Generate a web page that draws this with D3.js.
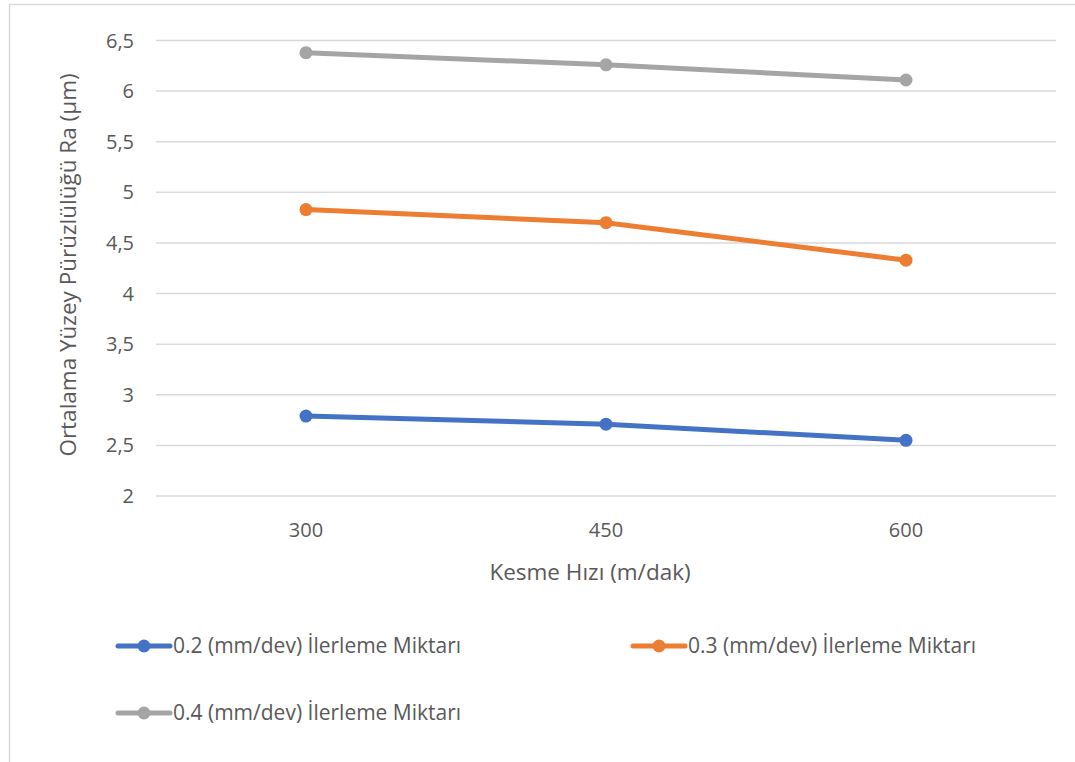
<!DOCTYPE html>
<html><head><meta charset="utf-8">
<script src="https://cdn.jsdelivr.net/npm/d3@7"></script>
<style>body{margin:0;background:#fff}svg{display:block}</style>
</head><body>
<svg id="c" width="1075" height="762"></svg>
<script>
const categories = ["300", "450", "600"];
const seriesNames = ["0.2 (mm/dev) İlerleme Miktarı", "0.3 (mm/dev) İlerleme Miktarı", "0.4 (mm/dev) İlerleme Miktarı"];
const feed02 = [2.79, 2.71, 2.55];
const feed03 = [4.83, 4.70, 4.33];
const feed04 = [6.38, 6.26, 6.11];
const yTicks = [2, 2.5, 3, 3.5, 4, 4.5, 5, 5.5, 6, 6.5];
const colors = ["#4472C4", "#ED7D31", "#A5A5A5"];
const xTitle = "Kesme Hızı (m/dak)";
const yTitle = "Ortalama Yüzey Pürüzlülüğü Ra (µm)";

const series = [feed02, feed03, feed04];
const svg = d3.select("#c");
const font = "'Open Sans', sans-serif";
const textColor = "#595959";

// chart border (partially cropped)
svg.append("rect").attr("x", 9.5).attr("y", 4.5).attr("width", 1100).attr("height", 800)
  .attr("fill", "none").attr("stroke", "#d9d9d9").attr("stroke-width", 1.5);

const x = d3.scaleBand().domain(categories).range([156, 1056]);
const y = d3.scaleLinear().domain([2, 6.5]).range([496, 40.5]);

// gridlines
svg.append("g").selectAll("line").data(yTicks).join("line")
  .attr("x1", 156).attr("x2", 1056)
  .attr("y1", d => y(d)).attr("y2", d => y(d))
  .attr("stroke", "#d9d9d9").attr("stroke-width", 1.5);

// y axis labels
const fmt = d => String(d).replace(".", ",");
svg.append("g").selectAll("text").data(yTicks).join("text")
  .attr("x", 134).attr("y", d => y(d)).attr("dy", "0.35em")
  .attr("text-anchor", "end").attr("font-family", font).attr("font-size", 20)
  .attr("fill", textColor).text(fmt);

// x axis labels
svg.append("g").selectAll("text").data(categories).join("text")
  .attr("x", d => x(d) + x.bandwidth() / 2).attr("y", 530).attr("dy", "0.35em")
  .attr("text-anchor", "middle").attr("font-family", font).attr("font-size", 20)
  .attr("fill", textColor).text(d => d);

// axis titles
svg.append("text").attr("x", 590).attr("y", 572).attr("dy", "0.35em")
  .attr("text-anchor", "middle").attr("font-family", font).attr("font-size", 22.5)
  .attr("fill", textColor).text(xTitle);
svg.append("text").attr("transform", "translate(68,265) rotate(-90)").attr("dy", "0.35em")
  .attr("text-anchor", "middle").attr("font-family", font).attr("font-size", 22.5)
  .attr("fill", textColor).text(yTitle);

// lines
const line = d3.line().x((d, i) => x(categories[i]) + x.bandwidth() / 2).y(d => y(d));
series.forEach((s, k) => {
  svg.append("path").datum(s).attr("d", line).attr("fill", "none")
    .attr("stroke", colors[k]).attr("stroke-width", 5).attr("stroke-linecap", "round");
  svg.append("g").selectAll("circle").data(s).join("circle")
    .attr("cx", (d, i) => x(categories[i]) + x.bandwidth() / 2).attr("cy", d => y(d))
    .attr("r", 6.5).attr("fill", colors[k]);
});

// legend
const legendPos = [[116, 646], [631, 646], [116, 713]];
legendPos.forEach((p, k) => {
  const g = svg.append("g").attr("transform", `translate(${p[0]},${p[1]})`);
  g.append("line").attr("x1", 2).attr("x2", 54).attr("y1", 0).attr("y2", 0)
    .attr("stroke", colors[k]).attr("stroke-width", 5).attr("stroke-linecap", "round");
  g.append("circle").attr("cx", 28).attr("cy", 0).attr("r", 6.5).attr("fill", colors[k]);
  g.append("text").attr("x", 57).attr("y", 0).attr("dy", "0.35em")
    .attr("font-family", font).attr("font-size", 21).attr("fill", textColor).text(seriesNames[k]);
});
</script>
</body></html>
